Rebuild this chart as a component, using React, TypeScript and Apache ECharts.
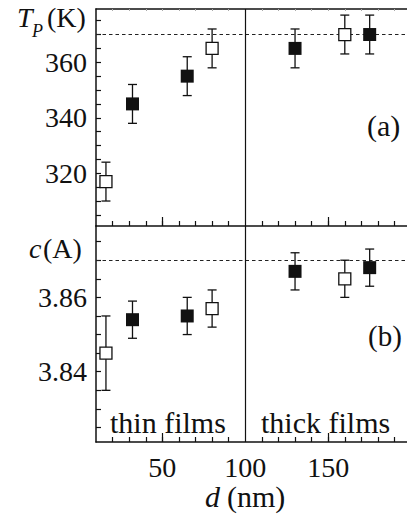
import React, { useEffect, useRef } from "react";
import * as echarts from "echarts";

// ---- data ----
const dFilled = [32, 65, 130, 175];
const dOpen = [16, 80, 160];
const tpFilled = [345, 355, 365, 370];
const tpFilledErr = [7, 7, 7, 7];
const tpOpen = [317, 365, 370];
const tpOpenErr = [7, 7, 7];
const cFilled = [3.854, 3.855, 3.867, 3.868];
const cFilledErr = [0.005, 0.005, 0.005, 0.005];
const cOpen = [3.845, 3.857, 3.865];
const cOpenErr = [0.01, 0.005, 0.005];
const refTp = 370;
const refC = 3.87;
const divider = 100;

const xMinorTicks = [20, 30, 40, 50, 60, 70, 80, 90, 110, 120, 130, 140, 150, 160, 170, 180, 190];
const xMajorTicks = [50, 150];
const xTickLabels = [50, 100, 150];
const tpTicks = [305, 310, 315, 320, 325, 330, 335, 340, 345, 350, 355, 360, 365, 370, 375];
const tpTickLabels = [320, 340, 360];
const cTicks = [3.825, 3.83, 3.835, 3.84, 3.845, 3.85, 3.855, 3.86, 3.865, 3.87, 3.875];
const cTickLabels = [3.84, 3.86];

const X_MIN = 10;
const X_MAX = 197.5;
const SERIF = "Liberation Serif";

function pts(xs: number[], ys: number[], es?: number[]) {
  return xs.map((x, i) => (es ? [x, ys[i], es[i]] : [x, ys[i]]));
}

function errRender(params: any, api: any) {
  const x = api.value(0);
  const y = api.value(1);
  const e = api.value(2);
  const top = api.coord([x, y + e]);
  const bot = api.coord([x, y - e]);
  const h = 4.5;
  const style = { stroke: "#111", lineWidth: 1.3 };
  return {
    type: "group",
    children: [
      { type: "line", shape: { x1: top[0], y1: top[1], x2: bot[0], y2: bot[1] }, style },
      { type: "line", shape: { x1: top[0] - h, y1: top[1], x2: top[0] + h, y2: top[1] }, style },
      { type: "line", shape: { x1: bot[0] - h, y1: bot[1], x2: bot[0] + h, y2: bot[1] }, style },
    ],
  };
}

function txt(x: number, y: number, text: string, size: number, italic = false, lineHeight?: number) {
  return {
    type: "text",
    x,
    y,
    style: {
      text,
      fontFamily: SERIF,
      fontSize: size,
      fontStyle: italic ? "italic" : "normal",
      fill: "#111",
      align: "left",
      verticalAlign: "middle",
      ...(lineHeight ? { lineHeight } : {}),
    },
  };
}

export default function App() {
  const ref = useRef<HTMLDivElement>(null);
  useEffect(() => {
    if (!ref.current) return;
    const chart = echarts.init(ref.current, null, { renderer: "svg" });
    const axisLine = { show: true, lineStyle: { color: "#111", width: 1.5 } };
    const labelStyle = { fontFamily: SERIF, fontSize: 28, color: "#111" };
    const xBase = (grid: number) => ({
      type: "value",
      gridIndex: grid,
      min: X_MIN,
      max: X_MAX,
      splitLine: { show: false },
    });
    const option: any = {
      animation: false,
      backgroundColor: "#fff",
      grid: [
        { left: 96, top: 9, width: 311, height: 217 },
        { left: 96, top: 226, width: 311, height: 216 },
      ],
      xAxis: [
        {
          ...xBase(0),
          position: "bottom",
          axisLine,
          axisTick: { show: true, inside: true, length: 5, customValues: xMinorTicks, lineStyle: { color: "#111", width: 1.2 } },
          axisLabel: { show: false },
        },
        {
          ...xBase(0),
          position: "bottom",
          axisLine: { show: false },
          axisTick: { show: true, inside: true, length: 9, customValues: xMajorTicks, lineStyle: { color: "#111", width: 1.2 } },
          axisLabel: { show: false },
        },
        {
          ...xBase(0),
          position: "top",
          axisLine,
          axisTick: { show: true, inside: true, length: 2, customValues: xMinorTicks, lineStyle: { color: "#aaa", width: 1 } },
          axisLabel: { show: false },
        },
        {
          ...xBase(1),
          position: "bottom",
          axisLine,
          axisTick: { show: true, inside: true, length: 5, customValues: xMinorTicks, lineStyle: { color: "#111", width: 1.2 } },
          axisLabel: { show: true, customValues: xTickLabels, margin: 11, lineHeight: 28, ...labelStyle },
        },
        {
          ...xBase(1),
          position: "bottom",
          axisLine: { show: false },
          axisTick: { show: true, inside: true, length: 9, customValues: xMajorTicks, lineStyle: { color: "#111", width: 1.2 } },
          axisLabel: { show: false },
        },
      ],
      yAxis: [
        {
          type: "value",
          gridIndex: 0,
          min: 301,
          max: 379.2,
          axisLine,
          splitLine: { show: false },
          axisTick: { show: true, inside: true, length: 5, customValues: tpTicks, lineStyle: { color: "#111", width: 1.2 } },
          axisLabel: { show: true, customValues: tpTickLabels, margin: 9, ...labelStyle },
        },
        {
          type: "value",
          gridIndex: 1,
          min: 3.8211,
          max: 3.8792,
          axisLine,
          splitLine: { show: false },
          axisTick: { show: true, inside: true, length: 5, customValues: cTicks, lineStyle: { color: "#111", width: 1.2 } },
          axisLabel: {
            show: true,
            customValues: cTickLabels,
            margin: 9,
            formatter: (v: number) => v.toFixed(2),
            ...labelStyle,
          },
        },
      ],
      series: [
        {
          type: "scatter",
          xAxisIndex: 0,
          yAxisIndex: 0,
          data: [],
          z: 1,
          markLine: {
            z: 1,
            silent: true,
            symbol: "none",
            label: { show: false },
            data: [
              { yAxis: refTp, lineStyle: { type: [3.5, 3], color: "#222", width: 1 } },
              { xAxis: divider, lineStyle: { type: "solid", color: "#111", width: 1.2 } },
            ],
          },
        },
        {
          type: "scatter",
          xAxisIndex: 3,
          yAxisIndex: 1,
          data: [],
          z: 1,
          markLine: {
            z: 1,
            silent: true,
            symbol: "none",
            label: { show: false },
            data: [
              { yAxis: refC, lineStyle: { type: [3.5, 3], color: "#222", width: 1 } },
              { xAxis: divider, lineStyle: { type: "solid", color: "#111", width: 1.2 } },
            ],
          },
        },
        { type: "custom", xAxisIndex: 0, yAxisIndex: 0, z: 5, renderItem: errRender, data: pts(dFilled, tpFilled, tpFilledErr) },
        { type: "custom", xAxisIndex: 0, yAxisIndex: 0, z: 5, renderItem: errRender, data: pts(dOpen, tpOpen, tpOpenErr) },
        { type: "custom", xAxisIndex: 3, yAxisIndex: 1, z: 5, renderItem: errRender, data: pts(dFilled, cFilled, cFilledErr) },
        { type: "custom", xAxisIndex: 3, yAxisIndex: 1, z: 5, renderItem: errRender, data: pts(dOpen, cOpen, cOpenErr) },
        {
          type: "scatter", xAxisIndex: 0, yAxisIndex: 0, z: 10, symbol: "rect", symbolSize: 13,
          itemStyle: { color: "#111", borderColor: "#111", borderWidth: 0, opacity: 1 },
          data: pts(dFilled, tpFilled),
        },
        {
          type: "scatter", xAxisIndex: 0, yAxisIndex: 0, z: 10, symbol: "rect", symbolSize: 12,
          itemStyle: { color: "#fff", borderColor: "#111", borderWidth: 1.3, opacity: 1 },
          data: pts(dOpen, tpOpen),
        },
        {
          type: "scatter", xAxisIndex: 3, yAxisIndex: 1, z: 10, symbol: "rect", symbolSize: 13,
          itemStyle: { color: "#111", borderColor: "#111", borderWidth: 0, opacity: 1 },
          data: pts(dFilled, cFilled),
        },
        {
          type: "scatter", xAxisIndex: 3, yAxisIndex: 1, z: 10, symbol: "rect", symbolSize: 12,
          itemStyle: { color: "#fff", borderColor: "#111", borderWidth: 1.3, opacity: 1 },
          data: pts(dOpen, cOpen),
        },
      ],
      graphic: [
        txt(17, 17.5, "T", 28, true),
        txt(32, 31, "P", 18, true),
        txt(47, 17.5, "(K)", 28),
        txt(29, 248.5, "c", 28, true),
        txt(43, 248.5, "(A)", 28),
        txt(367, 125, "(a)", 30),
        txt(368, 336, "(b)", 29),
        txt(110, 422, "thin films", 30),
        txt(261, 422, "thick films", 30),
        txt(205, 496.5, "d", 30, true, 26),
        txt(227, 496.5, "(nm)", 30, false, 26),
      ],
    };
    chart.setOption(option);
    return () => chart.dispose();
  }, []);
  return (
    <div
      ref={ref}
      style={{ position: "absolute", left: 0, top: 0, width: 407, height: 521, background: "#fff" }}
    />
  );
}
